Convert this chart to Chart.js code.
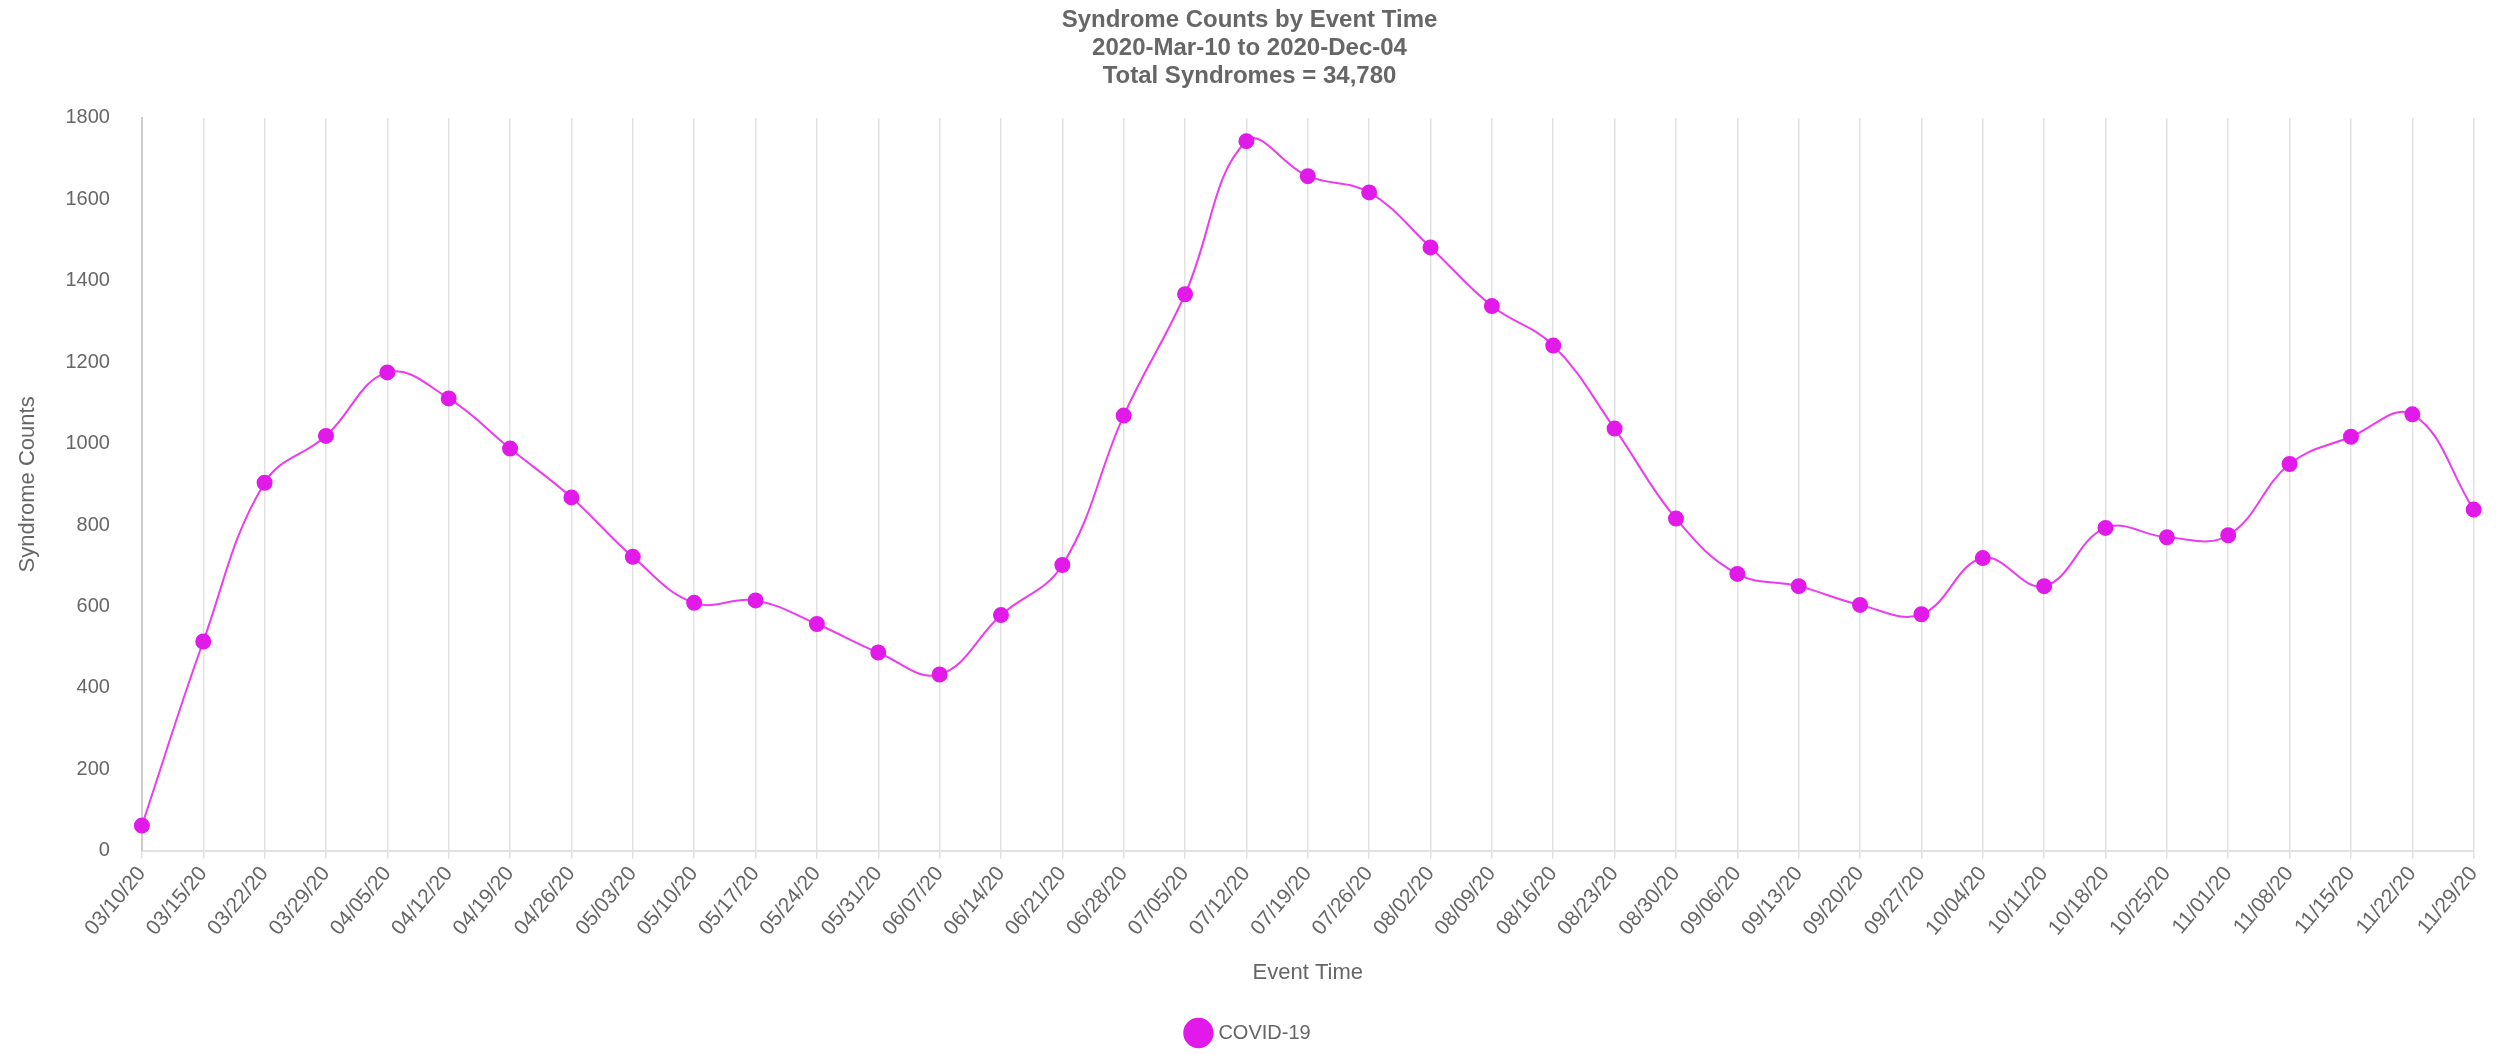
<!DOCTYPE html>
<html>
<head>
<meta charset="utf-8">
<script src="https://cdn.jsdelivr.net/npm/chart.js@4"></script>
<style>
  html, body { margin: 0; padding: 0; background: #fff; }
  #wrap { width: 2496px; height: 1054px; }
</style>
</head>
<body>
<div id="wrap"><canvas id="syndromeChart"></canvas></div>
<script>
// weekly event dates
const weeks = ['03/10/20', '03/15/20', '03/22/20', '03/29/20', '04/05/20', '04/12/20', '04/19/20', '04/26/20',
    '05/03/20', '05/10/20', '05/17/20', '05/24/20', '05/31/20', '06/07/20', '06/14/20', '06/21/20', '06/28/20',
    '07/05/20', '07/12/20', '07/19/20', '07/26/20', '08/02/20', '08/09/20', '08/16/20', '08/23/20', '08/30/20',
    '09/06/20', '09/13/20', '09/20/20', '09/27/20', '10/04/20', '10/11/20', '10/18/20', '10/25/20', '11/01/20',
    '11/08/20', '11/15/20', '11/22/20', '11/29/20'];

// COVID-19 syndrome counts per week
const covidCounts = [62, 514, 904, 1019, 1175, 1111, 988, 868, 722, 609, 615, 557, 487, 433, 579, 702, 1069,
    1367, 1743, 1657, 1617, 1482, 1338, 1241, 1037, 816, 680, 650, 604, 581, 719, 650, 793, 770, 775,
    950, 1017, 1072, 838];

const yTicks = [0, 200, 400, 600, 800, 1000, 1200, 1400, 1600, 1800];

const narrow = '"Liberation Sans Narrow", "Arial Narrow", "Liberation Sans", Arial, sans-serif';
const regular = '"Liberation Sans", Arial, sans-serif';
const grey = '#666';

const ctx = document.getElementById('syndromeChart').getContext('2d');
new Chart(ctx, {
    type: 'line',
    data: {
        labels: weeks,
        datasets: [
            {
                label: 'COVID-19',
                data: covidCounts,
                borderColor: '#ec3cf0',
                backgroundColor: '#e11ae9',
                pointBackgroundColor: '#e11ae9',
                pointBorderColor: '#e11ae9',
                pointRadius: 7,
                borderWidth: 2,
                tension: 0.4,
                fill: false
            }
        ]
    },
    options: {
        responsive: true,
        maintainAspectRatio: false,
        animation: false,
        layout: { padding: { left: 15, right: 12, top: 2, bottom: 1 } },
        plugins: {
            title: {
                display: true,
                text: ['Syndrome Counts by Event Time', '2020-Mar-10 to 2020-Dec-04', 'Total Syndromes = 34,780'],
                color: grey,
                font: { family: narrow, size: 24, weight: 'bold', lineHeight: 1.18 },
                padding: { top: 4, bottom: 27 }
            },
            legend: {
                position: 'bottom',
                labels: {
                    usePointStyle: true,
                    boxHeight: 24,
                    color: grey,
                    font: { family: regular, size: 20 },
                    padding: 18
                }
            }
        },
        scales: {
            x: {
                grid: { color: '#e2e2e2', lineWidth: 1.5, drawTicks: true, tickLength: 8 },
                border: { color: '#e2e2e2', width: 2 },
                ticks: {
                    color: grey,
                    font: { family: narrow, size: 21 },
                    maxRotation: 50,
                    minRotation: 50,
                    autoSkip: false
                },
                title: {
                    display: true,
                    text: 'Event Time',
                    color: grey,
                    font: { family: narrow, size: 22 },
                    padding: { top: 16, bottom: 19 }
                }
            },
            y: {
                min: yTicks[0],
                max: yTicks[yTicks.length - 1],
                afterBuildTicks: axis => { axis.ticks = yTicks.map(v => ({ value: v })); },
                grid: { display: false },
                border: { color: '#ccc', width: 2 },
                ticks: {
                    color: grey,
                    font: { family: regular, size: 20 },
                    padding: 24,
                    callback: v => String(v)
                },
                title: {
                    display: true,
                    text: 'Syndrome Counts',
                    color: grey,
                    font: { family: narrow, size: 22 },
                    padding: { top: 0, bottom: 0 }
                }
            }
        }
    }
});
</script>
</body>
</html>
